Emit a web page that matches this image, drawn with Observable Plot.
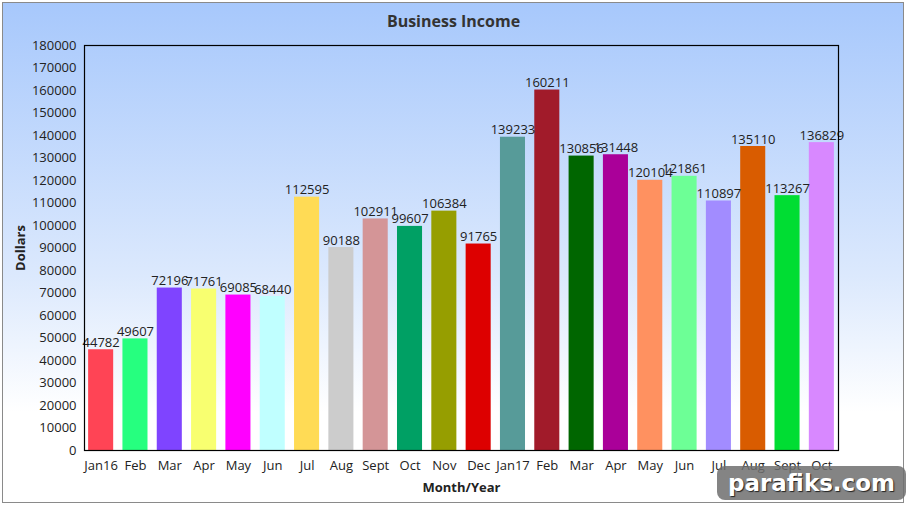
<!DOCTYPE html>
<html>
<head>
<meta charset="utf-8">
<script src="https://cdn.jsdelivr.net/npm/d3@7"></script>
<script src="https://cdn.jsdelivr.net/npm/@observablehq/plot@0.6"></script>
<style>
  html, body { margin: 0; padding: 0; background: #fff; }
  #wrap { position: relative; width: 907px; height: 506px; overflow: hidden; font-family: "Open Sans", sans-serif; }
  #bg { position: absolute; left: 2px; top: 2px; width: 902px; height: 501px; box-sizing: border-box;
        border: 1px solid #8a8a8a; background: linear-gradient(to bottom, #a7c8fc 0%, #dce9fd 55%, #ffffff 82%, #ffffff 100%); }
  #title { position: relative; height: 36px; line-height: 42px; text-align: center; font-weight: bold; font-size: 16px; color: #333; }
  #chart { position: relative; }
  #chart svg { background: transparent !important; }
  #chart [aria-label="y-axis label"] text, #chart [aria-label="x-axis label"] text { font-weight: bold; }
  #wm { position: absolute; left: 717px; top: 466px; width: 189px; height: 34px; border-radius: 8px;
        background: rgba(110,110,110,0.85); color: #fff; font-family: "DejaVu Sans", sans-serif; font-weight: bold;
        font-size: 23px; line-height: 34px; text-align: center; text-shadow: 1px 1px 1px #222; }
</style>
</head>
<body>
<div id="wrap">
  <div id="bg"></div>
  <div id="title">Business Income</div>
  <div id="chart"></div>
  <div id="wm">parafiks.com</div>
</div>
<script>
const months = ["Jan16","Feb","Mar","Apr","May","Jun","Jul","Aug","Sept","Oct","Nov","Dec",
                "Jan17","Feb","Mar","Apr","May","Jun","Jul","Aug","Sept","Oct"];
const income = [44782, 49607, 72196, 71761, 69085, 68440, 112595, 90188, 102911, 99607, 106384, 91765,
                139233, 160211, 130856, 131448, 120104, 121861, 110897, 135110, 113267, 136829];
const colors = ["#ff4455","#26ff7f","#7f44ff","#f8ff70","#ff00ff","#c0ffff","#ffdb55","#cccccc","#d49597","#00a064","#969e00","#dd0000",
                "#579b99","#a11b2a","#006600","#aa0099","#ff9160","#6dff96","#a28cff","#d95c00","#00dd33","#d888ff"];
const yTicks = d3.range(0, 180001, 10000);

const data = income.map((v, i) => ({i, v, c: colors[i]}));

const chart = Plot.plot({
  width: 907,
  height: 470,
  marginLeft: 84,
  marginRight: 69,
  marginTop: 9,
  marginBottom: 56,
  style: {fontFamily: "Open Sans, sans-serif", fontSize: "13px", color: "#222", background: "transparent"},
  x: {domain: d3.range(months.length), paddingInner: 0.27, paddingOuter: 0.12, round: false},
  y: {domain: [0, 180000]},
  marks: [
    Plot.barY(data, {x: "i", y: "v", fill: "c"}),
    Plot.text(data, {x: "i", y: "v", text: d => String(d.v), lineAnchor: "bottom", dy: -3, fontSize: 13, fill: "#222"}),
    Plot.frame({stroke: "black", strokeWidth: 1.2}),
    Plot.axisY({ticks: yTicks, tickSize: 0, tickPadding: 8, tickFormat: d => String(d), label: "Dollars", labelArrow: false, labelAnchor: "center", labelOffset: 69, fontSize: 13}),
    Plot.axisX({tickSize: 0, tickPadding: 10, tickFormat: i => months[i], label: "Month/Year", labelArrow: false, labelAnchor: "center", labelOffset: 41, fontSize: 13})
  ]
});
document.getElementById("chart").appendChild(chart);
</script>
</body>
</html>
